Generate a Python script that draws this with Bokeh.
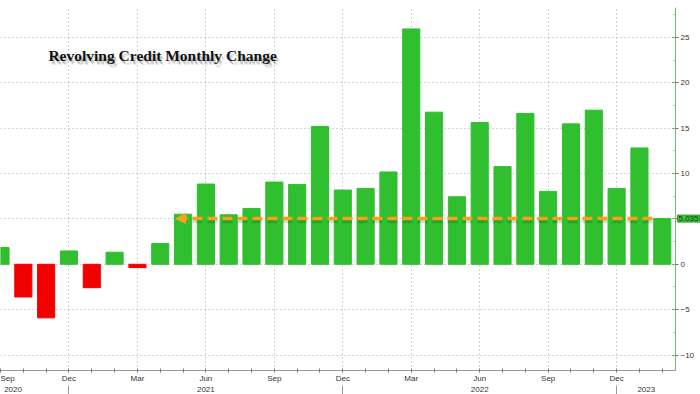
from bokeh.plotting import figure
from bokeh.models import (FixedTicker, SingleIntervalTicker, LinearAxis, Label,
                          Arrow, NormalHead, Range1d, ColumnDataSource)
from bokeh.embed import file_html
from bokeh.resources import INLINE

# ---------------- data ----------------
month_names = ["Sep", "Oct", "Nov", "Dec",
               "Jan", "Feb", "Mar", "Apr", "May", "Jun", "Jul", "Aug", "Sep", "Oct", "Nov", "Dec",
               "Jan", "Feb", "Mar", "Apr", "May", "Jun", "Jul", "Aug", "Sep", "Oct", "Nov", "Dec",
               "Jan", "Feb"]
month_years = [2020] * 4 + [2021] * 12 + [2022] * 12 + [2023] * 2
values = [1.85, -3.6, -5.9, 1.47, -2.58, 1.33, -0.37, 2.29, 5.52, 8.84,
          5.45, 6.15, 9.06, 8.8, 15.17, 8.18, 8.36, 10.17, 25.93, 16.76,
          7.44, 15.62, 10.76, 16.61, 8.03, 15.47, 16.98, 8.36, 12.82, 5.035]
quarter_labels = ["Mar", "Jun", "Sep", "Dec"]
year_labels = ["2020", "2021", "2022", "2023"]
year_label_pos = [0.55, 9, 21, 28.3]
title_text = "Revolving Credit Monthly Change"

GREEN = "#2fbf2f"
RED = "#f20000"
ORANGE = "#f2a31b"
AXIS_GREEN = "#6cbf6c"

x_idx = list(range(len(values)))
colors = [GREEN if v >= 0 else RED for v in values]
src = ColumnDataSource(dict(x=x_idx, top=values, color=colors))

p = figure(width=700, height=394, x_range=Range1d(0, 29.58), y_range=Range1d(-11.7, 28.29),
           y_axis_location="right", output_backend="svg", toolbar_location=None,
           min_border_left=0, min_border_top=0, min_border_right=25, min_border_bottom=0,
           background_fill_color="white", border_fill_color="white")
p.outline_line_color = None

# grids
quarter_ticks = [i for i, m in enumerate(month_names) if m in quarter_labels]
p.xgrid.ticker = FixedTicker(ticks=quarter_ticks)
p.xgrid.grid_line_color = "#a8a8a8"
p.xgrid.grid_line_dash = "1 3"
p.ygrid.ticker = SingleIntervalTicker(interval=5)
p.ygrid.grid_line_color = "#a8a8a8"
p.ygrid.grid_line_dash = "1 3"

# bars
p.vbar(x="x", top="top", bottom=0, width=0.75, color="color", source=src)

# arrow at latest value
last = values[-1]
arrow_from, arrow_to = 28.57, 7.68
p.segment(x0=[arrow_from], y0=[last - 0.3], x1=[arrow_to + 0.3], y1=[last - 0.3],
          line_color="black", line_alpha=0.15, line_width=4, line_dash="10 5")
p.add_layout(Arrow(end=NormalHead(size=10, fill_color=ORANGE, line_color=ORANGE),
                   x_start=arrow_from, y_start=last, x_end=arrow_to, y_end=last,
                   line_color=ORANGE, line_width=3.5, line_dash="10 5"))

# main x axis
xa = p.xaxis[0]
xa.ticker = FixedTicker(ticks=x_idx)
xa.major_label_overrides = {i: (m if m in quarter_labels else "") for i, m in enumerate(month_names)}
xa.major_tick_in = 2
xa.major_tick_out = 2
xa.major_tick_line_color = "#777"
xa.minor_tick_line_color = None
xa.axis_line_color = "#999"
xa.major_label_standoff = 1
xa.major_label_text_font = "Liberation Sans"
xa.major_label_text_font_size = "8px"
xa.major_label_text_color = "#333"

# year axis
sep_ticks = [i for i, m in enumerate(month_names) if m == "Dec"]
ya2 = LinearAxis(ticker=FixedTicker(ticks=year_label_pos, minor_ticks=sep_ticks),
                 major_label_overrides={pos: lab for pos, lab in zip(year_label_pos, year_labels)},
                 axis_line_color=None, major_tick_line_color=None,
                 major_tick_in=0, major_tick_out=0,
                 minor_tick_in=0, minor_tick_out=10, minor_tick_line_color="#999",
                 major_label_standoff=-9,
                 major_label_text_font="Liberation Sans", major_label_text_font_size="8px",
                 major_label_text_color="#333")
p.add_layout(ya2, "below")

# right y axis
yax = p.yaxis[0]
yax.ticker = SingleIntervalTicker(interval=5, num_minor_ticks=2)
yax.major_label_overrides = {5: ""}
yax.axis_line_color = AXIS_GREEN
yax.major_tick_line_color = "#4a8a4a"
yax.minor_tick_line_color = "#8abf8a"
yax.major_tick_in = 3
yax.major_tick_out = 3
yax.minor_tick_in = 2
yax.minor_tick_out = 0
yax.major_label_standoff = 2
yax.major_label_text_font = "Liberation Sans"
yax.major_label_text_font_size = "8px"
yax.major_label_text_color = "#333"

# last value label placed in a side panel so it is not clipped by the frame
p.add_layout(Label(x=29.58, y=last, x_offset=2, text=f"{last:.3f}", text_baseline="middle",
                   text_font="Liberation Sans", text_font_size="8px", text_color="#153015",
                   background_fill_color="#3cc43c", border_line_color="#2a9a2a",
                   padding=1), "above")

# title with shadow
for dx, dy, a in [(1, -2, 0.1), (2, -3, 0.14), (3, -4, 0.1)]:
    p.add_layout(Label(x=2.1, y=22.07, x_offset=dx, y_offset=dy, text=title_text,
                       text_font="Liberation Serif", text_font_style="bold",
                       text_font_size="15.5px", text_color="black", text_alpha=a))
p.add_layout(Label(x=2.1, y=22.07, text=title_text, text_font="Liberation Serif",
                   text_font_style="bold", text_font_size="15.5px", text_color="#111"))

open("out.html", "w").write(file_html(p, INLINE))
